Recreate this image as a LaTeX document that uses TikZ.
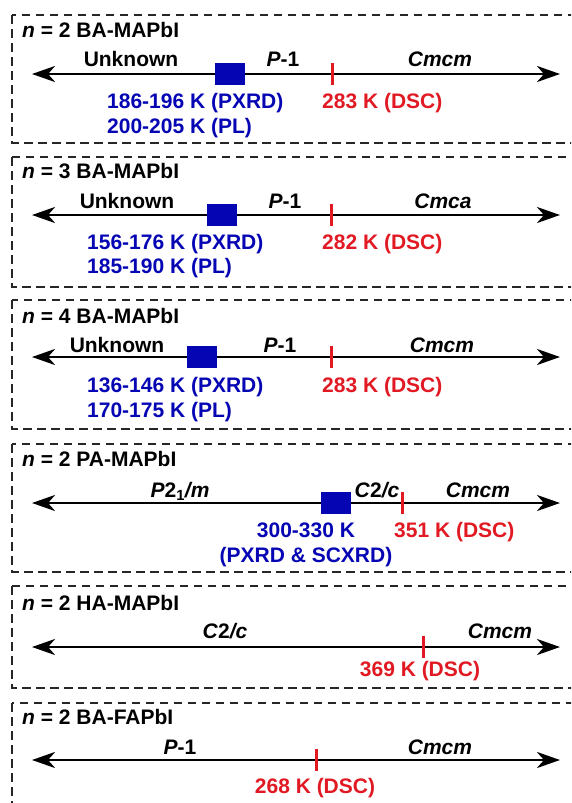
\documentclass[tikz,border=0pt]{standalone}
\usepackage{fontspec}
\setmainfont{Liberation Sans}
\usetikzlibrary{positioning, arrows.meta}

\definecolor{xrdblue}{RGB}{5,5,180}
\definecolor{dscred}{RGB}{225,25,35}

\tikzset{
    panel/.style={draw=black!85, line width=1.9pt, dash pattern=on 8.5pt off 5.5pt},
    taxis/.style={line width=2.8pt, {Stealth[length=23pt,width=16pt,inset=7pt]}-{Stealth[length=23pt,width=16pt,inset=7pt]}},
    txt/.style={font=\bfseries\fontsize{21}{25}\selectfont, inner sep=0pt},
    ttl/.style={txt, anchor=base west},
    phaselbl/.style={txt, anchor=base},
    xrd/.style={txt, anchor=base west, text=xrdblue},
    dsc/.style={txt, anchor=base west, text=dscred},
    xrdband/.style={fill=xrdblue, inner sep=0pt, minimum width=30pt, minimum height=22pt},
    dsctick/.style={fill=dscred, inner sep=0pt, minimum width=3pt, minimum height=22pt}
}

\begin{document}
\begin{tikzpicture}[x=1pt, y=-1pt]
        \useasboundingbox (0,0) rectangle (571,803);
        \clip (0,0) rectangle (571,803);
        % frames and temperature axes
        \foreach \top/\bot/\ax [count=\i] in {15/143/74, 157/287/215, 300/429/357, 444/572/503, 586/688/647, 703/830/760}
        {
            \draw[panel] (12,\top) rectangle (600,\bot);
            \coordinate (L\i) at (32,\ax);
            \coordinate (R\i) at (560,\ax);
            \draw[taxis] (L\i) -- (R\i);
        }

        % n = 2 BA-MAPbI
        \node[ttl] (n1) at (22,37.5) {\textit{n} = 2 BA-MAPbI};
        \node[phaselbl] (p1a) at (131,66) {Unknown};
        \node[phaselbl] (p1b) at (283,66) {\textit{P}-1};
        \node[phaselbl] (p1c) at (440,66) {\textit{Cmcm}};
        \node[xrdband] (s1) at (230,74) {};
        \node[dsctick] (t1) at (332,74) {};
        \node[xrd] (x1a) at (107,108.5) {186-196 K (PXRD)};
        \node[xrd] (x1b) at (107,133) {200-205 K (PL)};
        \node[dsc] (d1) at (322,108.5) {283 K (DSC)};

        % n = 3 BA-MAPbI
        \node[ttl] (n2) at (22,178.5) {\textit{n} = 3 BA-MAPbI};
        \node[phaselbl] (p2a) at (127,208) {Unknown};
        \node[phaselbl] (p2b) at (285,208) {\textit{P}-1};
        \node[phaselbl] (p2c) at (443,208) {\textit{Cmca}};
        \node[xrdband] (s2) at (222,215) {};
        \node[dsctick] (t2) at (331,215) {};
        \node[xrd] (x2a) at (87,249.5) {156-176 K (PXRD)};
        \node[xrd] (x2b) at (87,273.5) {185-190 K (PL)};
        \node[dsc] (d2) at (322,249.5) {282 K (DSC)};

        % n = 4 BA-MAPbI
        \node[ttl] (n3) at (22,323.5) {\textit{n} = 4 BA-MAPbI};
        \node[phaselbl] (p3a) at (117,352) {Unknown};
        \node[phaselbl] (p3b) at (280,352) {\textit{P}-1};
        \node[phaselbl] (p3c) at (442,352) {\textit{Cmcm}};
        \node[xrdband] (s3) at (202,357) {};
        \node[dsctick] (t3) at (331,357) {};
        \node[xrd] (x3a) at (87,392.5) {136-146 K (PXRD)};
        \node[xrd] (x3b) at (87,417.5) {170-175 K (PL)};
        \node[dsc] (d3) at (322,392.5) {283 K (DSC)};

        % n = 2 PA-MAPbI
        \node[ttl] (n4) at (22,466) {\textit{n} = 2 PA-MAPbI};
        \node[phaselbl] (p4a) at (180,497) {\textit{P}2\textsubscript{1}\textit{/m}};
        \node[phaselbl] (p4b) at (377,497) {\textit{C}2\textit{/c}};
        \node[phaselbl] (p4c) at (478,497) {\textit{Cmcm}};
        \node[xrdband] (s4) at (336,503) {};
        \node[dsctick] (t4) at (402,503) {};
        \node[xrd, anchor=base] (x4a) at (306,537.5) {300-330 K};
        \node[xrd, anchor=base] (x4b) at (306,562.5) {(PXRD \& SCXRD)};
        \node[dsc] (d4) at (394,537.5) {351 K (DSC)};

        % n = 2 HA-MAPbI
        \node[ttl] (n5) at (22,610) {\textit{n} = 2 HA-MAPbI};
        \node[phaselbl] (p5a) at (225,638) {\textit{C}2\textit{/c}};
        \node[phaselbl] (p5b) at (500,638) {\textit{Cmcm}};
        \node[dsctick] (t5) at (423,647) {};
        \node[dsc, anchor=base] (d5) at (420,676.5) {369 K (DSC)};

        % n = 2 BA-FAPbI
        \node[ttl] (n6) at (22,724) {\textit{n} = 2 BA-FAPbI};
        \node[phaselbl] (p6a) at (180,754) {\textit{P}-1};
        \node[phaselbl] (p6b) at (440,754) {\textit{Cmcm}};
        \node[dsctick] (t6) at (316,760) {};
        \node[dsc, anchor=base] (d6) at (315,793.5) {268 K (DSC)};
    \end{tikzpicture}
\end{document}
